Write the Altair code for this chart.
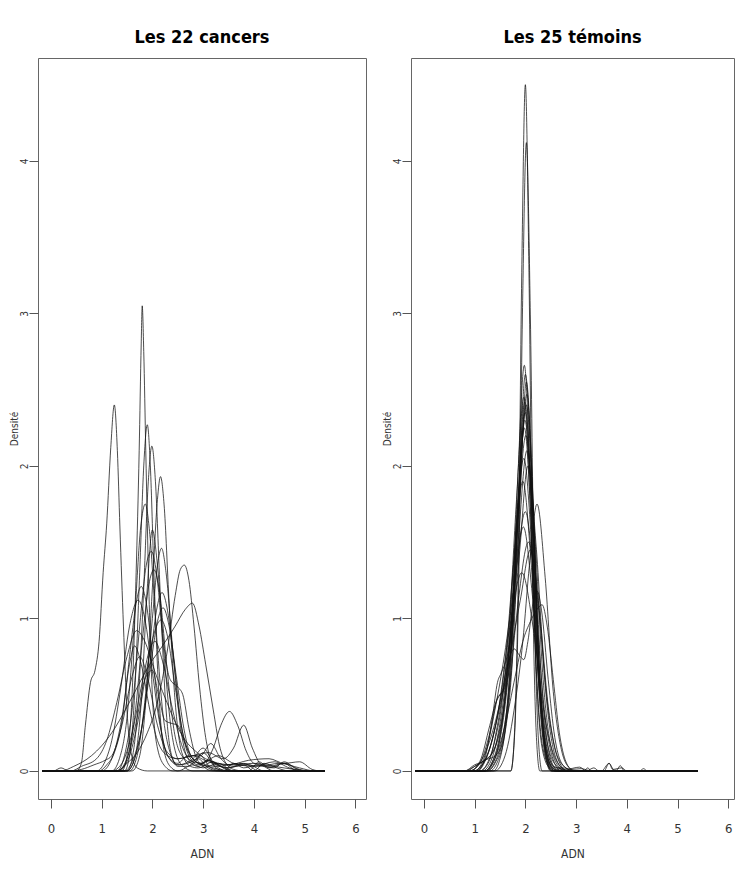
import altair as alt
import pandas as pd

# ---------------- data ----------------
X_FROM, X_TO = -0.17, 5.4          # common range of every density curve
X_TICKS = [0, 1, 2, 3, 4, 5, 6]
Y_TICKS = [0, 1, 2, 3, 4]
TITLE_LEFT = "Les 22 cancers"
TITLE_RIGHT = "Les 25 témoins"

# 22 cancers : (ADN, densité) key points of each curve
c01 = [(0.50,0),(0.60,0.05),(0.68,0.30),(0.78,0.58),(0.87,0.66),(0.95,0.85),(1.03,1.30),(1.10,1.62),(1.18,2.12),(1.25,2.40),(1.31,2.10),(1.36,1.60),(1.43,0.95),(1.50,0.40),(1.58,0.12),(1.70,0.02),(1.90,0)]
c02 = [(1.40,0),(1.50,0.10),(1.60,0.50),(1.68,1.30),(1.74,2.10),(1.78,2.80),(1.80,3.05),(1.83,2.75),(1.87,2.10),(1.93,1.20),(2.00,0.50),(2.10,0.15),(2.25,0.03),(2.40,0),(3.40,0),(3.60,0.05),(3.80,0.02),(4.10,0.04),(4.40,0)]
c03 = [(1.45,0),(1.55,0.10),(1.65,0.50),(1.75,1.30),(1.83,2.00),(1.90,2.27),(1.96,2.00),(2.03,1.30),(2.12,0.55),(2.22,0.15),(2.35,0.03),(2.50,0),(2.80,0.04),(3.00,0.02),(3.30,0.05),(3.60,0)]
c04 = [(1.50,0),(1.60,0.08),(1.72,0.45),(1.83,1.20),(1.92,1.90),(1.99,2.13),(2.06,1.90),(2.15,1.20),(2.26,0.45),(2.38,0.10),(2.50,0.03),(2.70,0.03),(2.95,0.10),(3.15,0.02),(3.40,0)]
c05 = [(1.60,0),(1.75,0.10),(1.88,0.50),(2.00,1.20),(2.10,1.78),(2.16,1.93),(2.23,1.75),(2.33,1.10),(2.45,0.45),(2.58,0.12),(2.75,0.03),(2.90,0.02),(3.20,0.06),(3.45,0.01),(3.70,0)]
c06 = [(1.20,0),(1.35,0.08),(1.50,0.35),(1.65,1.00),(1.77,1.60),(1.86,1.75),(1.95,1.55),(2.07,0.95),(2.20,0.40),(2.35,0.12),(2.50,0.04),(2.70,0.05),(2.90,0.08),(3.10,0.02),(3.30,0)]
c07 = [(1.55,0),(1.70,0.10),(1.85,0.45),(2.00,1.00),(2.10,1.35),(2.18,1.46),(2.27,1.30),(2.40,0.80),(2.55,0.30),(2.70,0.08),(2.90,0.03),(3.10,0.07),(3.25,0.02),(3.40,0)]
c08 = [(1.30,0),(1.45,0.10),(1.60,0.40),(1.75,0.95),(1.88,1.35),(1.98,1.44),(2.08,1.30),(2.22,0.80),(2.36,0.30),(2.50,0.08),(2.65,0.02),(2.80,0),(3.90,0),(4.10,0.06),(4.30,0.02),(4.60,0.05),(4.85,0)]
c09 = [(1.35,0),(1.50,0.08),(1.65,0.35),(1.80,0.85),(1.93,1.22),(2.03,1.32),(2.13,1.20),(2.28,0.70),(2.42,0.28),(2.58,0.10),(2.80,0.05),(3.00,0.12),(3.20,0.05),(3.50,0.02),(3.80,0.05),(4.10,0)]
c10 = [(1.30,0),(1.50,0.05),(1.70,0.12),(1.90,0.25),(2.10,0.45),(2.30,0.80),(2.45,1.15),(2.55,1.32),(2.63,1.35),(2.72,1.25),(2.82,0.95),(2.93,0.55),(3.05,0.22),(3.17,0.06),(3.30,0.02),(3.50,0),(4.00,0),(4.20,0.05),(4.45,0.02),(4.70,0)]
c11 = [(0.20,0),(0.45,0.03),(0.80,0.10),(1.20,0.25),(1.50,0.42),(1.72,0.56),(1.95,0.70),(2.20,0.82),(2.45,0.95),(2.65,1.06),(2.79,1.10),(2.92,0.95),(3.05,0.70),(3.20,0.40),(3.32,0.17),(3.45,0.05),(3.60,0.01),(3.80,0)]
c12 = [(1.50,0),(1.65,0.08),(1.80,0.30),(1.95,0.70),(2.08,1.05),(2.19,1.17),(2.30,1.05),(2.43,0.70),(2.57,0.30),(2.72,0.10),(2.90,0.04),(3.10,0.07),(3.35,0.03),(3.60,0)]
c13 = [(0.95,0),(1.10,0.04),(1.25,0.12),(1.40,0.32),(1.55,0.75),(1.68,1.10),(1.78,1.21),(1.88,1.10),(2.02,0.70),(2.16,0.30),(2.30,0.10),(2.50,0.05),(2.70,0.10),(2.90,0.05),(3.20,0.02),(3.50,0)]
c14 = [(0.90,0),(1.05,0.05),(1.20,0.20),(1.38,0.55),(1.55,0.95),(1.72,1.12),(1.85,1.00),(2.00,0.65),(2.15,0.30),(2.30,0.10),(2.50,0.04),(2.80,0.08),(3.00,0.15),(3.20,0.06),(3.50,0.02),(3.80,0.04),(4.00,0)]
c15 = [(1.45,0),(1.60,0.06),(1.80,0.30),(1.95,0.65),(2.10,0.98),(2.21,1.07),(2.33,0.95),(2.48,0.60),(2.62,0.28),(2.78,0.10),(2.95,0.10),(3.15,0.18),(3.35,0.08),(3.60,0.03),(3.90,0.04),(4.20,0)]
c16 = [(1.30,0),(1.50,0.06),(1.70,0.30),(1.88,0.65),(2.05,0.92),(2.17,0.99),(2.30,0.88),(2.45,0.55),(2.60,0.25),(2.75,0.10),(2.95,0.05),(3.30,0.10),(3.60,0.05),(4.00,0.03),(4.40,0.06),(4.70,0.02),(5.00,0)]
c17 = [(0.40,0),(0.60,0.03),(0.90,0.08),(1.10,0.20),(1.30,0.45),(1.50,0.75),(1.69,0.92),(1.85,0.85),(2.05,0.65),(2.25,0.48),(2.45,0.32),(2.65,0.20),(2.85,0.13),(3.05,0.08),(3.30,0.05),(3.60,0.04),(4.00,0.05),(4.40,0.03),(4.80,0.01),(5.10,0)]
c18 = [(1.20,0),(1.40,0.05),(1.60,0.25),(1.80,0.58),(1.95,0.80),(2.05,0.85),(2.20,0.72),(2.40,0.40),(2.60,0.15),(2.80,0.06),(3.00,0.05),(3.20,0.15),(3.35,0.30),(3.52,0.39),(3.68,0.30),(3.85,0.13),(4.00,0.05),(4.30,0.03),(4.60,0.05),(4.90,0.01),(5.10,0)]
c19 = [(1.00,0),(1.20,0.08),(1.40,0.35),(1.55,0.70),(1.65,0.82),(1.78,0.70),(1.95,0.40),(2.10,0.20),(2.30,0.10),(2.50,0.08),(2.80,0.10),(3.10,0.12),(3.40,0.08),(3.60,0.15),(3.80,0.30),(3.97,0.15),(4.15,0.04),(4.40,0.02),(4.60,0.06),(4.80,0.02),(5.00,0)]
c20 = [(1.30,0),(1.50,0.08),(1.70,0.35),(1.85,0.60),(2.00,0.66),(2.12,0.50),(2.25,0.33),(2.40,0.31),(2.50,0.30),(2.62,0.20),(2.80,0.08),(3.00,0.04),(3.30,0.03),(3.70,0.05),(4.10,0.03),(4.50,0.05),(4.90,0.02),(5.20,0)]
c21 = [(1.50,0),(1.65,0.08),(1.78,0.45),(1.90,1.20),(2.00,1.58),(2.10,1.35),(2.22,0.85),(2.35,0.60),(2.50,0.55),(2.60,0.50),(2.72,0.28),(2.85,0.10),(3.00,0.03),(3.20,0)]
c22 = [(0.05,0),(0.20,0.02),(0.35,0),(0.60,0.01),(0.85,0.04),(1.07,0.07),(1.20,0.10),(1.40,0.30),(1.60,0.62),(1.75,0.75),(1.90,0.62),(2.10,0.30),(2.30,0.12),(2.50,0.08),(2.80,0.10),(3.10,0.06),(3.50,0.04),(3.90,0.07),(4.30,0.08),(4.60,0.05),(4.90,0.06),(5.15,0.01),(5.30,0)]

# 25 témoins
t01 = [(1.715,0),(1.786,0.25),(1.858,1.25),(1.929,3.27),(2.00,4.50),(2.071,3.27),(2.142,1.25),(2.214,0.25),(2.285,0)]
t02 = [(1.71,0),(1.787,0.23),(1.865,1.15),(1.942,2.99),(2.02,4.12),(2.098,2.99),(2.175,1.15),(2.253,0.23),(2.33,0)]
t03 = [(1.25,0),(1.40,0.05),(1.55,0.20),(1.70,0.70),(1.852,1.93),(1.98,2.66),(2.092,1.93),(2.204,0.74),(2.316,0.18),(2.45,0.03),(2.60,0)]
t04 = [(1.20,0),(1.35,0.06),(1.50,0.22),(1.64,0.62),(1.77,1.20),(1.90,1.95),(2.03,2.47),(2.15,1.79),(2.27,0.69),(2.39,0.16),(2.52,0.03),(2.65,0)]
t05 = [(1.05,0),(1.20,0.08),(1.35,0.35),(1.45,0.58),(1.52,0.64),(1.64,0.75),(1.76,1.00),(1.88,1.89),(2.00,2.60),(2.128,1.89),(2.256,0.72),(2.384,0.15),(2.512,0)]
t06 = [(1.10,0),(1.25,0.05),(1.40,0.20),(1.55,0.48),(1.68,0.95),(1.826,1.78),(1.97,2.45),(2.09,1.78),(2.21,0.70),(2.33,0.18),(2.46,0.04),(2.60,0)]
t07 = [(0.85,0),(1.00,0.03),(1.20,0.07),(1.412,0.10),(1.564,0.20),(1.716,0.67),(1.868,1.74),(2.02,2.40),(2.148,1.74),(2.276,0.67),(2.404,0.13),(2.532,0)]
t08 = [(0.90,0),(1.10,0.05),(1.30,0.25),(1.45,0.48),(1.55,0.52),(1.68,0.80),(1.84,1.71),(2.00,2.35),(2.136,1.71),(2.272,0.65),(2.408,0.13),(2.544,0.02),(2.70,0)]
t09 = [(1.15,0),(1.30,0.05),(1.45,0.22),(1.60,0.55),(1.73,1.00),(1.854,1.67),(1.99,2.30),(2.134,1.67),(2.278,0.66),(2.42,0.16),(2.56,0.03),(2.80,0.01),(3.07,0.025),(3.20,0)]
t10 = [(1.37,0),(1.53,0.12),(1.69,0.61),(1.85,1.60),(2.01,2.20),(2.162,1.60),(2.314,0.61),(2.466,0.12),(2.618,0.01),(2.90,0),(3.50,0),(3.65,0.05),(3.75,0.005),(3.80,0.005),(3.87,0.035),(3.95,0)]
t11 = [(1.10,0),(1.28,0.06),(1.45,0.30),(1.60,0.62),(1.73,1.00),(1.862,1.52),(2.03,2.10),(2.19,1.52),(2.35,0.60),(2.51,0.15),(2.68,0.02),(2.80,0)]
t12 = [(0.80,0),(1.00,0.03),(1.20,0.07),(1.35,0.12),(1.442,0.20),(1.618,0.57),(1.794,1.49),(1.97,2.05),(2.122,1.49),(2.274,0.57),(2.426,0.115),(2.578,0)]
t13 = [(1.20,0),(1.40,0.08),(1.57,0.35),(1.73,0.85),(1.89,1.45),(2.05,2.00),(2.218,1.45),(2.386,0.58),(2.554,0.14),(2.72,0.02),(2.85,0),(3.15,0),(3.23,0.02),(3.30,0)]
t14 = [(1.00,0),(1.20,0.07),(1.40,0.28),(1.598,0.70),(1.774,1.38),(1.95,1.90),(2.11,1.38),(2.27,0.55),(2.43,0.13),(2.59,0.02),(2.75,0.02),(2.90,0.01),(3.10,0.015),(3.30,0)]
t15 = [(1.40,0),(1.60,0.10),(1.80,0.45),(1.95,0.85),(2.08,1.35),(2.23,1.75),(2.39,1.27),(2.55,0.52),(2.71,0.14),(2.87,0.02),(3.00,0)]
t16 = [(0.80,0),(1.00,0.04),(1.20,0.07),(1.40,0.15),(1.60,0.47),(1.80,1.23),(2.00,1.70),(2.176,1.23),(2.352,0.47),(2.528,0.095),(2.704,0)]
t17 = [(1.00,0),(1.20,0.10),(1.40,0.40),(1.56,0.70),(1.76,1.16),(1.96,1.60),(2.136,1.16),(2.312,0.46),(2.488,0.11),(2.66,0.02),(2.80,0)]
t18 = [(1.228,0),(1.436,0.084),(1.644,0.42),(1.852,1.09),(2.06,1.50),(2.252,1.09),(2.444,0.42),(2.636,0.084),(2.828,0)]
t19 = [(0.90,0),(1.10,0.05),(1.30,0.20),(1.50,0.45),(1.65,0.70),(1.78,0.80),(1.90,0.75),(1.97,0.73),(2.05,0.85),(2.15,1.10),(2.23,1.18),(2.32,1.05),(2.45,0.60),(2.58,0.22),(2.70,0.06),(2.85,0.01),(3.00,0)]
t20 = [(1.20,0),(1.40,0.08),(1.60,0.30),(1.80,0.62),(1.95,0.85),(2.10,0.98),(2.23,1.06),(2.33,1.09),(2.43,0.95),(2.55,0.60),(2.67,0.25),(2.80,0.06),(2.95,0)]
t21 = [(0.97,0),(1.21,0.073),(1.45,0.36),(1.69,0.94),(1.93,1.30),(2.154,0.94),(2.378,0.36),(2.602,0.073),(2.826,0),(3.20,0),(3.35,0.02),(3.45,0)]
t22 = [(1.30,0),(1.45,0.06),(1.60,0.25),(1.74,0.70),(1.90,1.85),(2.02,2.55),(2.14,1.85),(2.26,0.72),(2.38,0.16),(2.52,0.02),(2.65,0)]
t23 = [(1.20,0),(1.35,0.06),(1.50,0.24),(1.63,0.55),(1.75,1.00),(1.854,1.76),(1.99,2.42),(2.118,1.76),(2.246,0.67),(2.374,0.136),(2.502,0),(3.55,0),(3.65,0.05),(3.72,0.01),(3.90,0.02),(4.00,0),(4.25,0),(4.33,0.015),(4.40,0)]
t24 = [(1.05,0),(1.25,0.10),(1.45,0.35),(1.68,0.72),(1.90,1.12),(2.10,1.45),(2.276,1.05),(2.452,0.42),(2.628,0.10),(2.80,0.02),(2.95,0)]
t25 = [(0.90,0),(1.10,0.06),(1.30,0.30),(1.42,0.45),(1.50,0.50),(1.60,0.55),(1.692,0.70),(1.836,1.63),(1.98,2.25),(2.116,1.63),(2.252,0.63),(2.388,0.126),(2.524,0)]

cancers = [c01, c02, c03, c04, c05, c06, c07, c08, c09, c10, c11,
           c12, c13, c14, c15, c16, c17, c18, c19, c20, c21, c22]
temoins = [t01, t02, t03, t04, t05, t06, t07, t08, t09, t10, t11, t12, t13,
           t14, t15, t16, t17, t18, t19, t20, t21, t22, t23, t24, t25]


def build(curves, prefix):
    rows = []
    for i, pts in enumerate(curves):
        full = [(X_FROM, 0.0)] + list(pts) + [(X_TO, 0.0)]
        for k, (x, y) in enumerate(full):
            rows.append({"curve": f"{prefix}{i + 1:02d}", "k": k, "ADN": x, "Densite": y})
    return pd.DataFrame(rows)


FONT = "'Liberation Sans Narrow', 'DejaVu Sans Condensed', 'Arial Narrow', 'Liberation Sans', sans-serif"
Y_DOMAIN = [-0.184, 4.675]
PLOT_H = 741


def panel(df, title, width, xmax):
    return alt.Chart(df).mark_line(
        interpolate="monotone", color="#111111", strokeWidth=0.75
    ).encode(
        x=alt.X("ADN:Q",
                scale=alt.Scale(domain=[-0.254, xmax], nice=False, zero=False),
                axis=alt.Axis(values=X_TICKS, title="ADN", format="d")),
        y=alt.Y("Densite:Q",
                scale=alt.Scale(domain=Y_DOMAIN, nice=False, zero=False),
                axis=alt.Axis(values=Y_TICKS, title="Densité", format="d",
                              labelAngle=270, labelAlign="center",
                              labelBaseline="bottom")),
        detail="curve:N",
        order="k:Q",
    ).properties(
        width=width, height=PLOT_H,
        title=alt.TitleParams(title, font=FONT, fontSize=18, fontWeight="bold",
                              color="#000", anchor="middle", offset=11),
    )


left = panel(build(cancers, "C"), TITLE_LEFT, 328, 6.21)
right = panel(build(temoins, "T"), TITLE_RIGHT, 323, 6.112)

chart = alt.hconcat(left, right, spacing=14).properties(
    padding={"left": 0, "top": 20, "right": 0, "bottom": 0},
).configure_view(
    stroke="#666666", strokeWidth=1
).configure_axis(
    domain=False, grid=False,
    tickSize=9, tickColor="#555555", tickWidth=1,
    labelFont=FONT, labelFontSize=13, labelColor="#333333",
    titleFont=FONT, titleFontSize=12, titleFontWeight="normal", titleColor="#333333",
).configure_axisX(
    labelPadding=14, titlePadding=13,
).configure_axisY(
    labelPadding=0, titlePadding=0, labelFontSize=10, titleFontSize=10,
)

chart.save("out.html", embed_options={"renderer": "svg", "actions": False})
